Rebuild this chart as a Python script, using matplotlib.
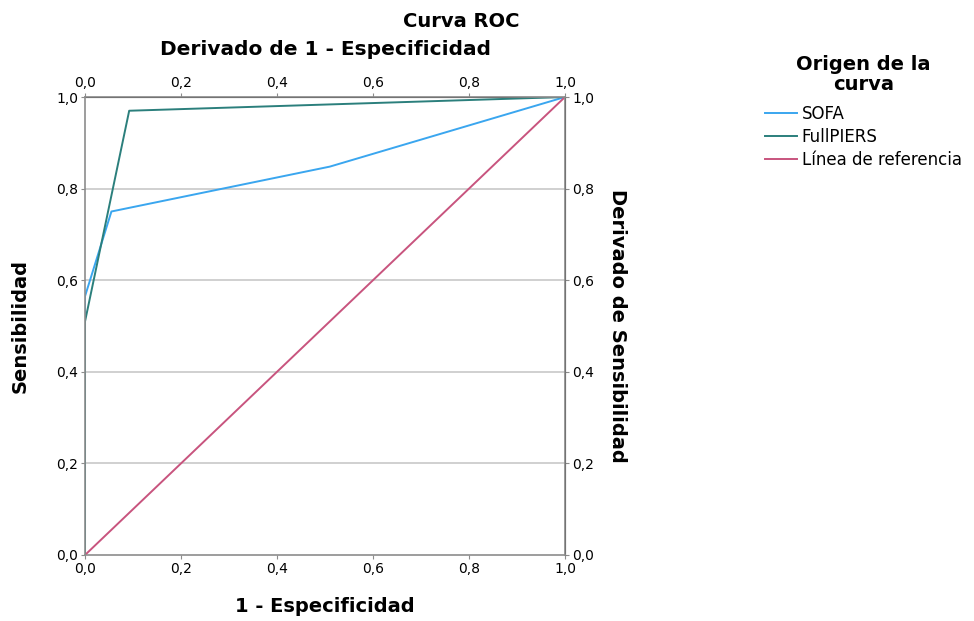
import numpy as np
import matplotlib
matplotlib.use("Agg")
import matplotlib.pyplot as plt
from matplotlib.ticker import FuncFormatter

# ROC curve points (1 - specificity, sensitivity)
sofa_x = [0.0, 0.0, 0.055, 0.51, 1.0]
sofa_y = [0.0, 0.565, 0.75, 0.848, 1.0]
piers_x = [0.0, 0.0, 0.092, 1.0]
piers_y = [0.0, 0.51, 0.970, 1.0]
ref_x = [0.0, 1.0]
ref_y = [0.0, 1.0]

series_names = ["SOFA", "FullPIERS", "Línea de referencia"]
series_colors = ["#3aa6ef", "#2b7f7c", "#c8547e"]
ticks = [0.0, 0.2, 0.4, 0.6, 0.8, 1.0]

comma = FuncFormatter(lambda v, p: ("%.1f" % v).replace(".", ","))

fig = plt.figure(figsize=(9.74, 6.21), dpi=100)
ax = fig.add_axes([0.0873, 0.1063, 0.4928, 0.7375])

# grid lines
for t in ticks[1:-1]:
    ax.axhline(t, color="#c8c8c8", lw=1.2, zorder=0)

ax.plot(sofa_x, sofa_y, color=series_colors[0], lw=1.4, label=series_names[0])
ax.plot(piers_x, piers_y, color=series_colors[1], lw=1.4, label=series_names[1])
ax.plot(ref_x, ref_y, color=series_colors[2], lw=1.4, label=series_names[2])

ax.set_xlim(0, 1)
ax.set_ylim(0, 1)
ax.set_xticks(ticks)
ax.set_yticks(ticks)
ax.xaxis.set_major_formatter(comma)
ax.yaxis.set_major_formatter(comma)
for s in ax.spines.values():
    s.set_color("#8c8c8c")
    s.set_linewidth(1.2)
ax.tick_params(length=3, color="#8c8c8c", labelsize=10, pad=2)

ax.set_xlabel("1 - Especificidad", fontsize=14, fontweight="bold", labelpad=15)
ax.set_ylabel("Sensibilidad", fontsize=14, fontweight="bold", labelpad=19)

top = ax.secondary_xaxis("top")
top.set_xticks(ticks)
top.xaxis.set_major_formatter(comma)
top.tick_params(length=3, color="#8c8c8c", labelsize=10, pad=2)
top.set_xlabel("Derivado de 1 - Especificidad", fontsize=14.5, fontweight="bold", labelpad=15)

right = ax.secondary_yaxis("right")
right.set_yticks(ticks)
right.yaxis.set_major_formatter(comma)
right.tick_params(length=3, color="#8c8c8c", labelsize=10, pad=2)
right.set_ylabel("Derivado de Sensibilidad", fontsize=14, fontweight="bold",
                 rotation=270, labelpad=24)

fig.text(0.474, 0.965, "Curva ROC", ha="center", va="center",
         fontsize=14, fontweight="bold")

leg = fig.legend(loc="upper left", bbox_to_anchor=(0.77, 0.935), frameon=False,
                 title="Origen de la\ncurva", fontsize=12, handlelength=1.9,
                 handletextpad=0.3, labelspacing=0.3)
leg.get_title().set_fontsize(14)
leg.get_title().set_fontweight("bold")
leg.get_title().set_multialignment("center")
leg.get_title().set_linespacing(1.05)
leg._legend_box.sep = 8

fig.savefig("out.png", dpi=100)
